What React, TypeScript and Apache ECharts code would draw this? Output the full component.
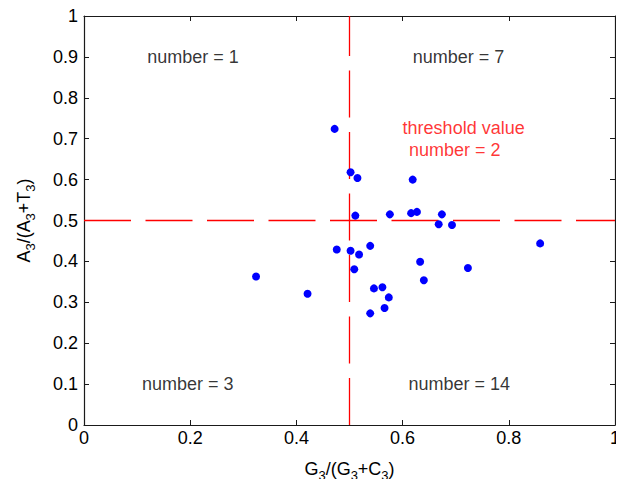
import React, { useEffect, useRef } from "react";
import * as echarts from "echarts";

const xValues = [0.472, 0.502, 0.515, 0.619, 0.511, 0.576, 0.616, 0.627, 0.674, 0.668, 0.693, 0.476, 0.502, 0.518, 0.539, 0.509, 0.324, 0.421, 0.633, 0.723, 0.640, 0.546, 0.562, 0.574, 0.566, 0.539, 0.859];
const yValues = [0.724, 0.618, 0.604, 0.600, 0.512, 0.515, 0.518, 0.521, 0.515, 0.491, 0.489, 0.429, 0.426, 0.417, 0.438, 0.381, 0.363, 0.321, 0.399, 0.384, 0.354, 0.334, 0.337, 0.312, 0.286, 0.273, 0.444];

const threshold = 0.5;
const vLineX = [threshold, threshold];
const vLineY = [0, 1];
const hLineX = [0, 1];
const hLineY = [threshold, threshold];

const blackNotes = ["number = 1", "number = 7", "number = 3", "number = 14"];
const blackNoteX = [0.119, 0.619, 0.109, 0.611];
const blackNoteY = [0.9, 0.9, 0.1, 0.1];
const redNotes = ["threshold value", "number = 2"];
const redNoteX = [0.600, 0.612];
const redNoteY = [0.726, 0.673];

const FONT = "Liberation Sans, Arial, sans-serif";

export default function App() {
  const ref = useRef<HTMLDivElement>(null);
  useEffect(() => {
    if (!ref.current) return;
    const chart = echarts.init(ref.current, undefined, { renderer: "svg" });
    const fmt = (v: number) => String(Math.round(v * 10) / 10);
    const axisLine = () => ({ show: true, onZero: false, lineStyle: { color: "#1a1a1a", width: 1.2 } });
    const tick = () => ({ show: true, inside: true, length: 5, lineStyle: { color: "#1a1a1a", width: 1 } });
    const rich = {
      n: { fontSize: 18, fontFamily: FONT, color: "#000" },
      s: { fontSize: 13, fontFamily: FONT, color: "#000", padding: [13, 0, 0, 0] },
    };
    const dashed = () => ({ color: "#ff0000", type: [47, 14.5], width: 1.3, opacity: 1 });
    chart.setOption({
      animation: false,
      color: ["#ff0000"],
      grid: { left: 84, top: 16, right: 9, bottom: 59, containLabel: false },
      xAxis: [
        {
          type: "value", min: 0, max: 1, interval: 0.2,
          axisLine: axisLine(), axisTick: tick(), splitLine: { show: false },
          axisLabel: { fontSize: 18, fontFamily: FONT, color: "#000", margin: 4, formatter: fmt },
          name: "{n|G}{s|3}{n|/(G}{s|3}{n|+C}{s|3}{n|)}",
          nameLocation: "middle", nameGap: 31,
          nameTextStyle: { rich },
        },
        {
          type: "value", min: 0, max: 1, interval: 0.2, position: "top",
          axisLine: axisLine(), axisTick: tick(), axisLabel: { show: false }, splitLine: { show: false },
        },
      ],
      yAxis: [
        {
          type: "value", min: 0, max: 1, interval: 0.1,
          axisLine: axisLine(), axisTick: tick(), splitLine: { show: false },
          axisLabel: { fontSize: 18, fontFamily: FONT, color: "#000", margin: 6, formatter: fmt },
          name: "{n|A}{s|3}{n|/(A}{s|3}{n|+T}{s|3}{n|)}",
          nameLocation: "middle", nameGap: 47, nameRotate: 90,
          nameTextStyle: { rich },
        },
        {
          type: "value", min: 0, max: 1, interval: 0.1, position: "right",
          axisLine: axisLine(), axisTick: tick(), axisLabel: { show: false }, splitLine: { show: false },
        },
      ],
      series: [
        {
          type: "line", silent: true, symbol: "none", z: 4,
          data: vLineX.map((x, i) => [x, vLineY[i]]),
          itemStyle: { color: "#ff0000" },
          lineStyle: dashed(),
        },
        {
          type: "line", silent: true, symbol: "none", z: 4,
          data: hLineX.map((x, i) => [x, hLineY[i]]),
          itemStyle: { color: "#ff0000" },
          lineStyle: dashed(),
        },
        {
          type: "scatter",
          data: xValues.map((x, i) => [x, yValues[i]]),
          symbol: "circle", symbolSize: 8,
          itemStyle: { color: "#0000ff", opacity: 1 },
          z: 5,
        },
        {
          type: "scatter", symbolSize: 0, silent: true,
          data: blackNotes.map((t, i) => ({ value: [blackNoteX[i], blackNoteY[i]], name: t })),
          label: { show: true, position: "right", distance: 0, formatter: (p: any) => p.name, fontSize: 18, fontFamily: FONT, color: "#000" },
        },
        {
          type: "scatter", symbolSize: 0, silent: true,
          data: redNotes.map((t, i) => ({ value: [redNoteX[i], redNoteY[i]], name: t })),
          label: { show: true, position: "right", distance: 0, formatter: (p: any) => p.name, fontSize: 18, fontFamily: FONT, color: "#ff0000" },
        },
      ],
    });
    return () => chart.dispose();
  }, []);
  return <div ref={ref} style={{ width: 624, height: 487, margin: -8 }} />;
}
